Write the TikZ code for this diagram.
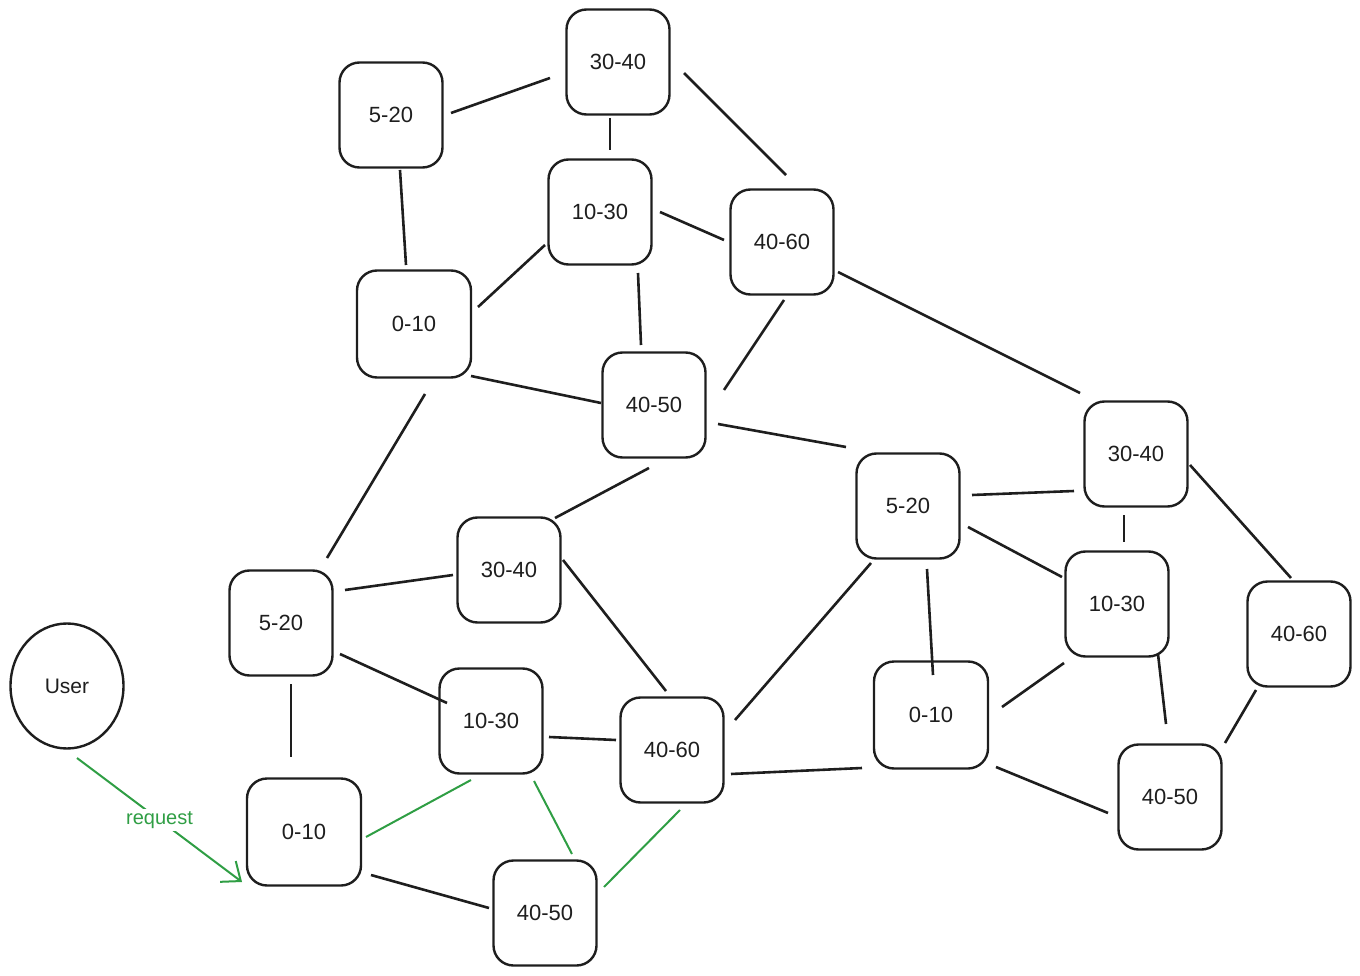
\documentclass[tikz,border=0pt]{standalone}
\usepackage{fontspec}
\setmainfont{Liberation Sans}
\usetikzlibrary{arrows.meta,shapes.geometric,calc}
\definecolor{ink}{HTML}{1E1E1E}
\definecolor{grn}{HTML}{2F9E44}
\tikzset{
  box/.style={draw=ink, line width=2.4pt, rounded corners=20pt, minimum width=103pt, minimum height=105pt, inner sep=0pt, font=\fontsize{22}{26}\selectfont, text=ink},
  wbox/.style={box, minimum width=114pt, minimum height=107pt},
  edge/.style={draw=ink, line width=2.6pt},
  gedge/.style={draw=grn, line width=2pt},
}
% connector between offsets from two named nodes
\newcommand{\lnk}[7][edge]{\path[#1] ($(#2.center)+(#3)$) -- ($(#5.center)+(#6)$);}
\begin{document}
\begin{tikzpicture}[x=1pt,y=-1pt]
\useasboundingbox (0,0) rectangle (1360,976);
\node[box] (A) at (391,115) {5-20};
\node[box] (B) at (618,62) {30-40};
\node[box] (C) at (600,212) {10-30};
\node[box] (D) at (782,242) {40-60};
\node[wbox] (E) at (414,324) {0-10};
\node[box] (F) at (654,405) {40-50};
\node[box] (G) at (1136,454) {30-40};
\node[box] (H) at (908,506) {5-20};
\node[box] (I) at (509,570) {30-40};
\node[box] (J) at (281,623) {5-20};
\node[box] (K) at (1117,604) {10-30};
\node[box] (L) at (1299,634) {40-60};
\node[wbox] (M) at (931,715) {0-10};
\node[box] (N) at (491,721) {10-30};
\node[box] (O) at (672,750) {40-60};
\node[box] (P) at (1170,797) {40-50};
\node[wbox] (Q) at (304,832) {0-10};
\node[box] (R) at (545,913) {40-50};
\node[draw=ink, line width=2.4pt, ellipse, minimum width=113pt, minimum height=125pt, inner sep=0pt, font=\fontsize{21}{25}\selectfont, text=ink] (U) at (67,686) {User};

\lnk{A}{60,-2}{}{B}{-68,16}{}
\lnk{B}{-8,56}{}{C}{10,-62}{}
\lnk{B}{66,11}{}{D}{4,-67}{}
\lnk{A}{9,55}{}{E}{-8,-59}{}
\lnk{C}{-55,33}{}{E}{64,-17}{}
\lnk{C}{60,0}{}{D}{-58,-2}{}
\lnk{C}{38,61}{}{F}{-13,-60}{}
\lnk{D}{2,58}{}{F}{70,-15}{}
\lnk{D}{56,30}{}{G}{-56,-61}{}
\lnk{E}{57,52}{}{F}{-53,-2}{}
\lnk{F}{64,19}{}{H}{-62,-59}{}
\lnk{E}{11,70}{}{J}{46,-65}{}
\lnk{F}{-5,63}{}{I}{46,-52}{}
\lnk{H}{64,-11}{}{G}{-62,37}{}
\lnk{G}{-12,61}{}{K}{7,-62}{}
\lnk{G}{54,11}{}{L}{-8,-56}{}
\lnk{H}{60,21}{}{K}{-55,-27}{}
\lnk{J}{64,-33}{}{I}{-56,5}{}
\lnk{I}{54,-10}{}{O}{-6,-59}{}
\lnk{J}{10,61}{}{Q}{-13,-75}{}
\lnk{J}{59,31}{}{N}{-44,-18}{}
\lnk{N}{58,16}{}{O}{-56,-10}{}
\lnk{H}{-37,57}{}{O}{63,-30}{}
\lnk{H}{19,63}{}{M}{2,-40}{}
\lnk{K}{-53,59}{}{M}{71,-8}{}
\lnk{K}{41,50}{}{P}{-4,-73}{}
\lnk{L}{-43,56}{}{P}{55,-54}{}
\lnk{O}{59,24}{}{M}{-69,53}{}
\lnk{M}{65,52}{}{P}{-62,16}{}
\lnk{Q}{67,43}{}{R}{-56,-5}{}
\lnk[gedge]{Q}{62,5}{}{N}{-20,59}{}
\lnk[gedge]{N}{43,60}{}{R}{27,-59}{}
\lnk[gedge]{R}{59,-26}{}{O}{8,60}{}
\draw[draw=grn, line width=2pt, -{Straight Barb[length=16pt,width=26pt,line width=2pt]}] ($(U.center)+(10,72)$) -- node[pos=0.5, fill=white, text=grn, inner sep=2pt, font=\fontsize{20}{24}\selectfont] {request} ($(Q.center)+(-62,50)$);
\end{tikzpicture}
\end{document}
